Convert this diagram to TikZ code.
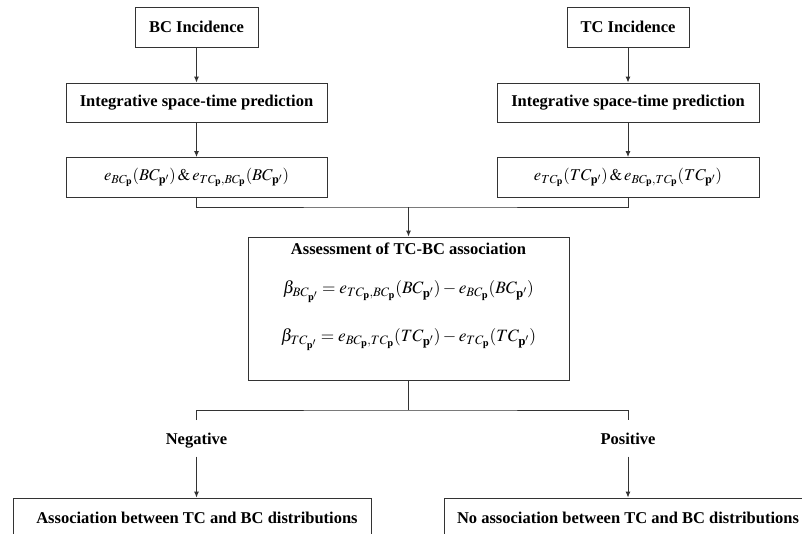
\documentclass[tikz,border=0pt]{standalone}
\usepackage{mathptmx}
\usepackage{fontspec}
\setmainfont{Liberation Serif}
\usetikzlibrary{arrows.meta}
\usetikzlibrary{positioning}

\tikzset{
    box/.style={rectangle, draw=black!80, line width=0.9pt, inner sep=0pt, font=\bfseries},
    lbl/.style={font=\bfseries, inner sep=0pt, text height=11.5pt, text depth=3.5pt},
    eqn/.style={inner sep=0pt, font=\fontsize{17.3}{21}\selectfont},
    link/.style={draw=black!80, line width=0.9pt},
    arr/.style={link, -{Latex[length=6pt,width=5pt]}}
}

\begin{document}
\fontsize{16.5}{20}\selectfont
\begin{tikzpicture}[x=1pt, y=-1pt]
    \useasboundingbox (0,0) rectangle (802,533);
    \clip (0,0) rectangle (802,533);

    % two input branches
    \draw (196.5, 27) node[box, minimum width=123, minimum height=40] (bcinc) {BC Incidence};
    \draw (628, 27) node[box, minimum width=122, minimum height=40] (tcinc) {TC Incidence};

    \draw (196.5, 102.5) node[box, minimum width=261, minimum height=39] (bcpred) {Integrative space-time prediction};
    \draw (628, 102.5) node[box, minimum width=262, minimum height=39] (tcpred) {Integrative space-time prediction};

    \draw (196.5, 177.5) node[box, minimum width=261, minimum height=40, font=\normalfont] (bce)
        {$e_{BC_{\mathbf{p}}}(BC_{\mathbf{p}'})\,\&\,e_{TC_{\mathbf{p}},BC_{\mathbf{p}}}(BC_{\mathbf{p}'})$};
    \draw (628, 177.5) node[box, minimum width=262, minimum height=40, font=\normalfont] (tce)
        {$e_{TC_{\mathbf{p}}}(TC_{\mathbf{p}'})\,\&\,e_{BC_{\mathbf{p}},TC_{\mathbf{p}}}(TC_{\mathbf{p}'})$};

    \draw[arr] (bcinc) -- (bcpred);
    \draw[arr] (tcinc) -- (tcpred);
    \draw[arr] (bcpred) -- (bce);
    \draw[arr] (tcpred) -- (tce);

    % assessment
    \draw (408.5, 308.5) node[box, minimum width=321, minimum height=143] (assess) {};
    \draw (408.5, 250) node[lbl] (assesstitle) {Assessment of TC-BC association};
    \draw (408.5, 292) node[eqn] (eqbc)
        {$\beta_{BC_{\mathbf{p}'}} = e_{TC_{\mathbf{p}},BC_{\mathbf{p}}}(BC_{\mathbf{p}'}) - e_{BC_{\mathbf{p}}}(BC_{\mathbf{p}'})$};
    \draw (408.5, 340) node[eqn] (eqtc)
        {$\beta_{TC_{\mathbf{p}'}} = e_{BC_{\mathbf{p}},TC_{\mathbf{p}}}(TC_{\mathbf{p}'}) - e_{TC_{\mathbf{p}}}(TC_{\mathbf{p}'})$};

    \coordinate (join) at (408.5, 207);
    \draw[link] (bce.south) |- (join) -| (tce.south);
    \draw[arr] (join) -- (assess.north);

    % outcomes
    \coordinate (split) at (408.5, 410);
    \coordinate (negtop) at (196.5, 420);
    \coordinate (postop) at (628, 420);
    \draw[link] (assess.south) -- (split);
    \draw[link] (negtop) |- (split) -| (postop);

    \draw (196.5, 440) node[lbl, outer sep=9pt] (neg) {Negative};
    \draw (628, 440) node[lbl, outer sep=9pt] (pos) {Positive};

    \draw (192, 518) node[box, minimum width=358, minimum height=40] (assoc) {\hspace*{10pt}Association between TC and BC distributions};
    \draw (628, 518) node[box, minimum width=368, minimum height=40] (noassoc) {No association between TC and BC distributions};

    \draw[arr] (neg.south) -- (neg.south |- assoc.north);
    \draw[arr] (pos.south) -- (pos.south |- noassoc.north);
\end{tikzpicture}
\end{document}
